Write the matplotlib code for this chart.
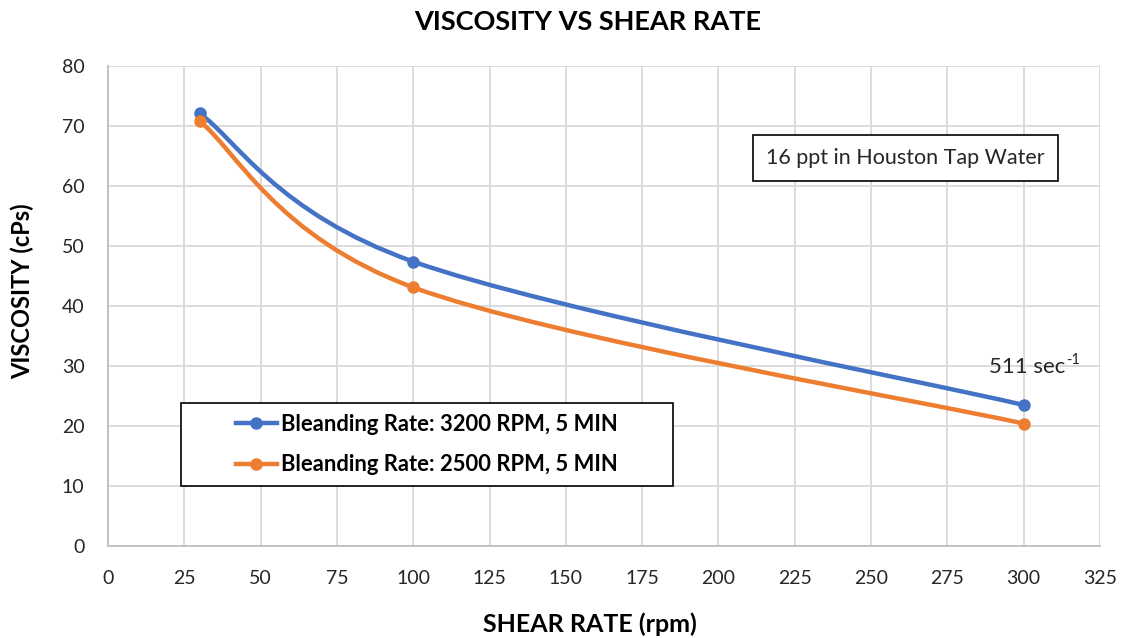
import numpy as np
import matplotlib
matplotlib.use("Agg")
import matplotlib.pyplot as plt
from matplotlib.path import Path
from matplotlib.patches import PathPatch, Rectangle
from matplotlib.lines import Line2D

shear_rate = [30, 100, 300]
visc_3200 = [72.1, 47.4, 23.5]
visc_2500 = [70.8, 43.1, 20.4]
labels = ["Bleanding Rate: 3200 RPM, 5 MIN", "Bleanding Rate: 2500 RPM, 5 MIN"]
colors = ["#4472C4", "#ED7D31"]
xticks = list(range(0, 326, 25))
yticks = list(range(0, 81, 10))

FONT = ["Lato", "DejaVu Sans"]


def smooth_path(xs, ys, t=1/6):
    """Excel-like smoothed line: cubic Bezier segments through the data points."""
    pts = np.column_stack([xs, ys]).astype(float)
    n = len(pts)
    verts = [pts[0]]
    codes = [Path.MOVETO]
    for i in range(n - 1):
        p0 = pts[i - 1] if i > 0 else pts[i]
        p1 = pts[i]
        p2 = pts[i + 1]
        p3 = pts[i + 2] if i + 2 < n else pts[i + 1]
        c1 = p1 + (p2 - p0) * t
        c2 = p2 - (p3 - p1) * t
        verts += [c1, c2, p2]
        codes += [Path.CURVE4] * 3
    return Path(verts, codes)


fig = plt.figure(figsize=(11.23, 6.38), dpi=100)
ax = fig.add_axes([0.0962, 0.1442, 0.8833, 0.7524])

for ys, c in zip([visc_3200, visc_2500], colors):
    ax.add_patch(PathPatch(smooth_path(shear_rate, ys), fill=False, edgecolor=c,
                           lw=3.2, capstyle="round", zorder=3))
    ax.plot(shear_rate, ys, ls="none", marker="o", ms=8, color=c, zorder=4)

ax.set_xlim(0, 325)
ax.set_ylim(0, 80)
ax.set_xticks(xticks)
ax.set_yticks(yticks)
ax.grid(True, color="#D9D9D9", lw=1.3)
ax.set_axisbelow(True)
for s in ["top", "right"]:
    ax.spines[s].set_visible(False)
for s in ["left", "bottom"]:
    ax.spines[s].set_color("#BFBFBF")
    ax.spines[s].set_linewidth(1.3)
ax.tick_params(length=0, labelsize=14)
ax.tick_params(axis="x", pad=17)
ax.tick_params(axis="y", pad=17)
for lab in ax.get_xticklabels() + ax.get_yticklabels():
    lab.set_fontfamily(FONT)
    lab.set_color("#262626")

fig.text(0.523, 0.965, "VISCOSITY VS SHEAR RATE", ha="center", va="center",
         fontsize=19.5, fontweight="bold", family=FONT)
fig.text(0.525, 0.022, "SHEAR RATE (rpm)", ha="center", va="center",
         fontsize=18, fontweight="bold", family=FONT)
fig.text(0.020, 0.544, "VISCOSITY (cPs)", ha="center", va="center", rotation=90,
         fontsize=17, fontweight="bold", family=FONT)

# legend (content centred in a fixed frame, as in the original)
ax.add_patch(Rectangle((0.0736, 0.125), 0.496, 0.173, transform=ax.transAxes,
                       fc="white", ec="black", lw=1.2, zorder=5))
handles = [Line2D([0], [0], color=c, lw=3.2, marker="o", ms=8) for c in colors]
leg = ax.legend(handles, labels, loc="center", bbox_to_anchor=(0.3216, 0.2115),
                frameon=False, prop={"family": FONT, "weight": "bold", "size": 15.8},
                handlelength=1.85, handletextpad=0.2, borderaxespad=0, labelspacing=0.9)
leg.set_zorder(6)
for t in leg.get_texts():
    t.set_color("black")

ax.text(0.804, 0.809, "16 ppt in Houston Tap Water", transform=ax.transAxes,
        ha="center", va="center", fontsize=15.5, family=FONT, color="#262626",
        bbox=dict(boxstyle="square,pad=0.6", fc="white", ec="black", lw=1.2))

ax.text(313.5, 29.8, "511 sec", ha="right", va="center", fontsize=16,
        family=FONT, color="#262626")
ax.annotate("-1", xy=(313.5, 29.8), xycoords="data", xytext=(1, 5), textcoords="offset points",
            ha="left", va="center", fontsize=10.5, family=FONT, color="#262626")

fig.savefig("out.png", dpi=100)
